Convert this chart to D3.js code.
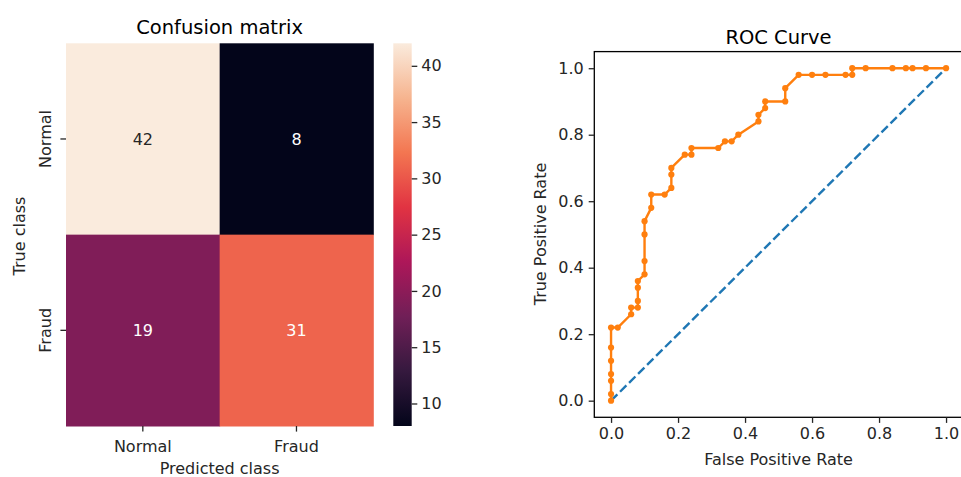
<!DOCTYPE html>
<html>
<head>
<meta charset="utf-8">
<script src="https://cdn.jsdelivr.net/npm/d3@7"></script>
<style>
  body { margin: 0; background: #fff; }
  svg { display: block; font-family: "DejaVu Sans", sans-serif; }
  .tick text { font-family: "DejaVu Sans", sans-serif; font-size: 16px; fill: #262626; }
  .tick line { stroke: #262626; stroke-width: 1.3; }
  .domain { stroke: #262626; stroke-width: 1.3; }
</style>
</head>
<body>
<svg id="chart" width="961" height="477"></svg>
<script>
// confusion matrix
var classes = ['Normal', 'Fraud'];
var matrix = [[42, 8], [19, 31]];
var cbarTicks = [10, 15, 20, 25, 30, 35, 40];

// roc curve points
var fpr = [0, 0, 0, 0, 0, 0, 0, 0.02, 0.06, 0.06, 0.08, 0.08, 0.08, 0.08, 0.10, 0.10, 0.10, 0.10,
  0.12, 0.12, 0.16, 0.18, 0.18, 0.18, 0.22, 0.24, 0.24, 0.32, 0.34, 0.36, 0.38, 0.44, 0.44, 0.46,
  0.46, 0.52, 0.52, 0.56, 0.60, 0.64, 0.70, 0.72, 0.72, 0.76, 0.84, 0.88, 0.90, 0.94, 1.0];
var tpr = [0, 0.02, 0.06, 0.08, 0.12, 0.16, 0.22, 0.22, 0.26, 0.28, 0.28, 0.30, 0.34, 0.36, 0.38, 0.42, 0.50, 0.54,
  0.58, 0.62, 0.62, 0.64, 0.68, 0.70, 0.74, 0.74, 0.76, 0.76, 0.78, 0.78, 0.80, 0.84, 0.86, 0.88,
  0.90, 0.90, 0.94, 0.98, 0.98, 0.98, 0.98, 0.98, 1.0, 1.0, 1.0, 1.0, 1.0, 1.0, 1.0];
var rocTicks = [0, 0.2, 0.4, 0.6, 0.8, 1.0];

// seaborn "rocket" colormap, sampled
var rocket = ['#03051a', '#35193e', '#701f57', '#ad1759', '#e13342', '#f37651', '#f6b48f', '#faebdd'];

var svg = d3.select('#chart');

// ---------- confusion matrix ----------
var vmin = 8, vmax = 42;
var color = d3.scaleLinear()
  .domain(rocket.map(function(c, i){ return vmin + (vmax - vmin) * i / (rocket.length - 1); }))
  .range(rocket)
  .interpolate(d3.interpolateRgb);

function relLum(c){
  var lin = function(v){ v = v / 255; return v <= 0.03928 ? v / 12.92 : Math.pow((v + 0.055) / 1.055, 2.4); };
  c = d3.rgb(c);
  return 0.2126 * lin(c.r) + 0.7152 * lin(c.g) + 0.0722 * lin(c.b);
}

var hx = d3.scaleBand().domain(classes).range([66, 373.3]);
var hy = d3.scaleBand().domain(classes).range([43.3, 426]);

var cells = [];
matrix.forEach(function(row, i){
  row.forEach(function(v, j){ cells.push({t: classes[i], p: classes[j], v: v}); });
});

var hm = svg.append('g');
hm.selectAll('rect').data(cells).enter().append('rect')
  .attr('x', function(d){ return hx(d.p); })
  .attr('y', function(d){ return hy(d.t); })
  .attr('width', hx.bandwidth() + 0.5)
  .attr('height', hy.bandwidth() + 0.5)
  .attr('fill', function(d){ return color(d.v); });

hm.selectAll('text.annot').data(cells).enter().append('text')
  .attr('class', 'annot')
  .attr('x', function(d){ return hx(d.p) + hx.bandwidth() / 2; })
  .attr('y', function(d){ return hy(d.t) + hy.bandwidth() / 2; })
  .attr('dy', '0.36em')
  .attr('text-anchor', 'middle')
  .style('font-size', '16px')
  .attr('fill', function(d){ return relLum(color(d.v)) > 0.408 ? '#262626' : '#fff'; })
  .text(function(d){ return d.v; });

var hxAxis = svg.append('g').attr('transform', 'translate(0,426)')
  .call(d3.axisBottom(hx).tickSize(5.6).tickPadding(9));
hxAxis.select('.domain').remove();

var hyAxis = svg.append('g').attr('transform', 'translate(66,0)')
  .call(d3.axisLeft(hy).tickSize(5.6).tickPadding(5));
hyAxis.select('.domain').remove();
hyAxis.selectAll('.tick text')
  .attr('text-anchor', 'middle')
  .attr('x', 0).attr('dy', '0.35em')
  .attr('transform', 'translate(-21,0) rotate(-90)');

svg.append('text').attr('x', 219.6).attr('y', 34)
  .attr('text-anchor', 'middle').style('font-size', '19.5px').attr('fill', '#000')
  .text('Confusion matrix');
svg.append('text').attr('x', 219.6).attr('y', 474)
  .attr('text-anchor', 'middle').style('font-size', '16px').attr('fill', '#262626')
  .text('Predicted class');
svg.append('text').attr('transform', 'translate(25,236) rotate(-90)')
  .attr('text-anchor', 'middle').style('font-size', '16px').attr('fill', '#262626')
  .text('True class');

// colorbar
var cy = d3.scaleLinear().domain([vmin, vmax]).range([426, 43.3]);
var defs = svg.append('defs');
var grad = defs.append('linearGradient').attr('id', 'rocket')
  .attr('x1', 0).attr('y1', 1).attr('x2', 0).attr('y2', 0);
grad.selectAll('stop').data(rocket).enter().append('stop')
  .attr('offset', function(d, i){ return i / (rocket.length - 1); })
  .attr('stop-color', function(d){ return d; });
svg.append('rect').attr('x', 393.3).attr('y', 43.3)
  .attr('width', 18.4).attr('height', 426 - 43.3)
  .attr('fill', 'url(#rocket)');
var cAxis = svg.append('g').attr('transform', 'translate(411.7,0)')
  .call(d3.axisRight(cy).tickValues(cbarTicks).tickSize(5.6).tickPadding(4));
cAxis.select('.domain').remove();

// ---------- ROC curve ----------
var rx = d3.scaleLinear().domain([-0.05, 1.05]).range([594.3, 962.8]);
var ry = d3.scaleLinear().domain([-0.05, 1.05]).range([417.3, 51.6]);
var fmt = d3.format('.1f');

var roc = svg.append('g');
roc.append('line')
  .attr('x1', rx(0)).attr('y1', ry(0))
  .attr('x2', rx(1)).attr('y2', ry(1))
  .attr('stroke', '#1f77b4').attr('stroke-width', 2.4)
  .attr('stroke-dasharray', '8.9,3.8');

var pts = fpr.map(function(f, i){ return [f, tpr[i]]; });
roc.append('path').datum(pts)
  .attr('fill', 'none').attr('stroke', '#ff7f0e').attr('stroke-width', 2.4)
  .attr('stroke-linejoin', 'round')
  .attr('d', d3.line().x(function(d){ return rx(d[0]); }).y(function(d){ return ry(d[1]); }));
roc.selectAll('circle').data(pts).enter().append('circle')
  .attr('cx', function(d){ return rx(d[0]); })
  .attr('cy', function(d){ return ry(d[1]); })
  .attr('r', 3.1)
  .attr('fill', '#ff7f0e');

// frame
roc.append('rect').attr('x', 594.3).attr('y', 51.6)
  .attr('width', 962.8 - 594.3).attr('height', 417.3 - 51.6)
  .attr('fill', 'none').attr('stroke', '#000').attr('stroke-width', 1.3);

var rxAxis = svg.append('g').attr('transform', 'translate(0,417.3)')
  .call(d3.axisBottom(rx).tickValues(rocTicks).tickFormat(fmt).tickSize(5.6).tickPadding(5));
rxAxis.select('.domain').remove();
var ryAxis = svg.append('g').attr('transform', 'translate(594.3,0)')
  .call(d3.axisLeft(ry).tickValues(rocTicks).tickFormat(fmt).tickSize(5.6).tickPadding(5));
ryAxis.select('.domain').remove();

svg.append('text').attr('x', 778.5).attr('y', 44)
  .attr('text-anchor', 'middle').style('font-size', '19.5px').attr('fill', '#000')
  .text('ROC Curve');
svg.append('text').attr('x', 778.5).attr('y', 465)
  .attr('text-anchor', 'middle').style('font-size', '16px').attr('fill', '#262626')
  .text('False Positive Rate');
svg.append('text').attr('transform', 'translate(546,234) rotate(-90)')
  .attr('text-anchor', 'middle').style('font-size', '16px').attr('fill', '#262626')
  .text('True Positive Rate');
</script>
</body>
</html>
